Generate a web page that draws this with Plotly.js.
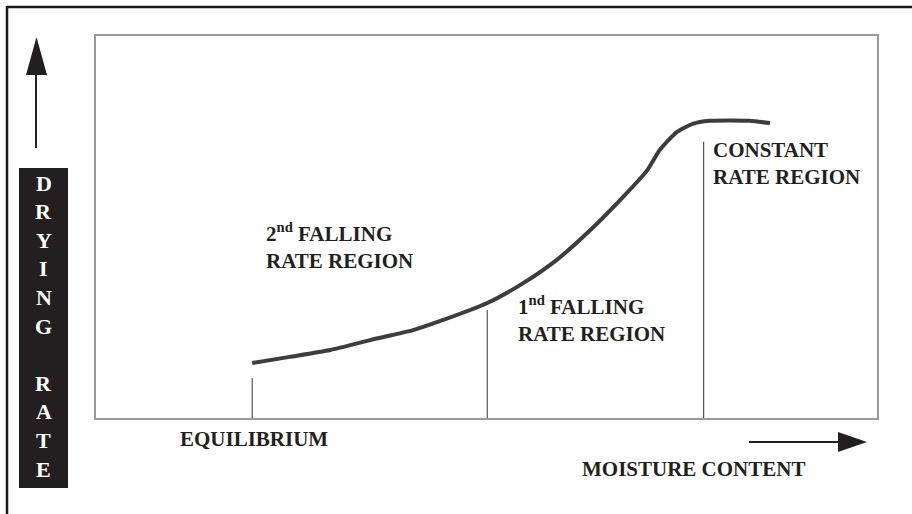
<!DOCTYPE html>
<html>
<head>
<meta charset="utf-8">
<script src="https://cdn.plot.ly/plotly-3.0.1.min.js"></script>
<style>html,body{margin:0;padding:0;background:#fff;}#chart{width:912px;height:514px;}</style>
</head>
<body>
<div id="chart"></div>
<script>
// Curve: moisture content (x, arbitrary units 0-100) vs drying rate (y, 0-100)
var moisture = [20.0, 24.8, 30.0, 35.1, 40.6, 44.1, 50.1, 54.7, 59.0, 63.3, 67.5, 70.6, 72.2, 74.4, 76.4, 78.6, 81.2, 83.7, 86.3];
var dryingRate = [14.4, 16.0, 17.8, 20.4, 23.0, 25.4, 30.1, 35.3, 41.4, 49.2, 57.9, 64.9, 70.2, 74.9, 77.0, 77.8, 77.9, 77.8, 77.2];

// Region boundary markers (x position, top of marker)
var boundaryX = [20.0, 50.1, 77.8];
var boundaryTop = [10.5, 28.3, 72.3];

var regionLabels = ["2<sup>nd</sup> FALLING<br>RATE REGION", "1<sup>nd</sup> FALLING<br>RATE REGION", "CONSTANT<br>RATE REGION"];
var yLetters = ["D","R","Y","I","N","G","","R","A","T","E"];
var xLabel = "MOISTURE CONTENT";
var equilibriumLabel = "EQUILIBRIUM";

// plot-area geometry helpers (pixel -> paper)
var L = 96, R = 877, T = 36, B = 418;
function px(x){ return (x - L) / (R - L); }
function py(y){ return (B - y) / (B - T); }

var FONT = "Liberation Serif, Times New Roman, serif";
var TXT = "#231f20";

var traces = [{
  x: moisture, y: dryingRate, type: "scatter", mode: "lines",
  line: {color: "#3d3d3d", width: 4, shape: "spline", smoothing: 0.6},
  hoverinfo: "skip", showlegend: false
}];

var shapes = [];
for (var i = 0; i < boundaryX.length; i++) {
  shapes.push({type: "line", xref: "x", yref: "y", x0: boundaryX[i], x1: boundaryX[i], y0: 0, y1: boundaryTop[i],
    line: {color: "#555", width: 1.2}});
}
// outer frame (top and left edges)
shapes.push({type: "line", xref: "paper", yref: "paper", x0: px(7), x1: px(915), y0: py(7), y1: py(7), line: {color: "#1a1a1a", width: 2.5}});
shapes.push({type: "line", xref: "paper", yref: "paper", x0: px(7), x1: px(7), y0: py(6), y1: py(520), line: {color: "#1a1a1a", width: 2.5}});
// black label box
shapes.push({type: "rect", xref: "paper", yref: "paper", x0: px(19), x1: px(68), y0: py(168), y1: py(488),
  fillcolor: TXT, line: {width: 0}});
// up arrow
shapes.push({type: "line", xref: "paper", yref: "paper", x0: px(36), x1: px(36), y0: py(148), y1: py(74), line: {color: TXT, width: 2}});
shapes.push({type: "path", xref: "paper", yref: "paper",
  path: "M " + px(26) + " " + py(75) + " L " + px(47) + " " + py(75) + " L " + px(36.5) + " " + py(37) + " Z",
  fillcolor: TXT, line: {width: 0}});
// right arrow
shapes.push({type: "line", xref: "paper", yref: "paper", x0: px(749), x1: px(839), y0: py(442), y1: py(442), line: {color: TXT, width: 2}});
shapes.push({type: "path", xref: "paper", yref: "paper",
  path: "M " + px(838) + " " + py(432) + " L " + px(838) + " " + py(452) + " L " + px(867) + " " + py(442) + " Z",
  fillcolor: TXT, line: {width: 0}});

var annotations = [];
var regionPos = [[264, 246], [516, 319], [711, 163.5]];
for (var j = 0; j < regionLabels.length; j++) {
  annotations.push({xref: "paper", yref: "paper", x: px(regionPos[j][0]), y: py(regionPos[j][1]),
    xanchor: "left", yanchor: "middle", align: "left", showarrow: false,
    text: "<b>" + regionLabels[j] + "</b>", font: {family: FONT, size: 21, color: TXT}});
}
annotations.push({xref: "paper", yref: "paper", x: px(178), y: py(439), xanchor: "left", yanchor: "middle",
  showarrow: false, text: "<b>" + equilibriumLabel + "</b>", font: {family: FONT, size: 21, color: TXT}});
annotations.push({xref: "paper", yref: "paper", x: px(580), y: py(469), xanchor: "left", yanchor: "middle",
  showarrow: false, text: "<b>" + xLabel + "</b>", font: {family: FONT, size: 21, color: TXT}});
for (var k = 0; k < yLetters.length; k++) {
  if (!yLetters[k]) continue;
  annotations.push({xref: "paper", yref: "paper", x: px(43.5), y: py(183 + k * 28.6), xanchor: "center", yanchor: "middle",
    showarrow: false, text: "<b>" + yLetters[k] + "</b>", font: {family: FONT, size: 22, color: "#ffffff"}});
}

var layout = {
  width: 912, height: 514,
  margin: {l: L, r: 912 - R, t: T, b: 514 - B, pad: 0},
  paper_bgcolor: "#ffffff", plot_bgcolor: "#ffffff",
  showlegend: false,
  xaxis: {range: [0, 100], showgrid: false, zeroline: false, showticklabels: false, ticks: "",
    showline: true, mirror: true, linecolor: "#9a9a9a", linewidth: 2, fixedrange: true},
  yaxis: {range: [0, 100], showgrid: false, zeroline: false, showticklabels: false, ticks: "",
    showline: true, mirror: true, linecolor: "#9a9a9a", linewidth: 2, fixedrange: true},
  shapes: shapes,
  annotations: annotations
};

Plotly.newPlot("chart", traces, layout, {displayModeBar: false, staticPlot: true});
</script>
</body>
</html>
